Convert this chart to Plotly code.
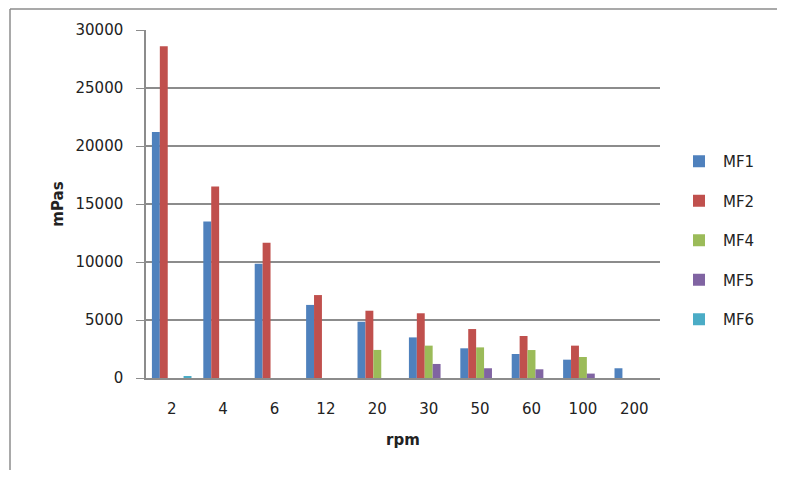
import plotly.graph_objects as go

categories = ["2", "4", "6", "12", "20", "30", "50", "60", "100", "200"]
mf1 = [21200, 13500, 9850, 6300, 4850, 3500, 2560, 2070, 1580, 840]
mf2 = [28600, 16500, 11650, 7150, 5800, 5580, 4220, 3620, 2790, None]
mf4 = [None, None, None, None, 2420, 2790, 2640, 2410, 1810, None]
mf5 = [None, None, None, None, None, 1210, 840, 750, 380, None]
mf6 = [150, None, None, None, None, None, None, None, None, None]

series = [
    ("MF1", mf1, "#4F81BD"),
    ("MF2", mf2, "#C0504D"),
    ("MF4", mf4, "#9BBB59"),
    ("MF5", mf5, "#8064A2"),
    ("MF6", mf6, "#4BACC6"),
]

FONT = "DejaVu Sans"
OFF = 8  # page body margin
fig = go.Figure()
for name, vals, color in series:
    fig.add_trace(go.Bar(
        x=categories, y=vals, name=name, legendgroup=name,
        marker=dict(color=color, line=dict(width=0)),
    ))

W, H = 785 - 2 * OFF, 478 - 2 * OFF
# target screen positions of plot area
SX0, SX1, SY0, SY1 = 146, 660, 30, 378
L = SX0 - OFF
T = SY0 - OFF
R = (OFF + W) - SX1
B = (OFF + H) - SY1
pw, ph = SX1 - SX0, SY1 - SY0

def px_x(p):
    return (p - SX0) / pw

def px_y(p):
    return (SY1 - p) / ph

fig.update_layout(
    width=W, height=H,
    margin=dict(l=L, r=R, t=T, b=B, pad=0, autoexpand=False),
    paper_bgcolor="white", plot_bgcolor="white",
    barmode="group", bargap=0.23, bargroupgap=0,
    font=dict(family=FONT, size=14, color="#222222"),
    showlegend=True,
    legend=dict(
        x=px_x(675), y=px_y(145), xanchor="left", yanchor="top",
        font=dict(family=FONT, size=15, color="#222222"),
        tracegroupgap=17, itemwidth=38, bgcolor="rgba(0,0,0,0)",
    ),
    xaxis=dict(
        type="category", showgrid=False, showline=True, linecolor="#8c8c8c", linewidth=1.5,
        ticks="", ticklabelstandoff=16,
        tickfont=dict(family=FONT, size=15, color="#222222"),
        title=dict(text="<b>rpm</b>", font=dict(family=FONT, size=15, color="#222222"), standoff=18),
        automargin=False,
    ),
    yaxis=dict(
        range=[0, 30000], dtick=5000, tickformat="d",
        showgrid=True, gridcolor="#8c8c8c", gridwidth=1.5,
        showline=True, linecolor="#8c8c8c", linewidth=1.5,
        ticks="outside", ticklen=8, tickcolor="#8c8c8c", tickwidth=1,
        ticklabelstandoff=10,
        tickfont=dict(family=FONT, size=15, color="#222222"),
        title=dict(text="<b>mPas</b>", font=dict(family=FONT, size=15, color="#222222"), standoff=8),
        zeroline=False, automargin=False,
    ),
    shapes=[
        dict(type="line", xref="paper", yref="paper", x0=px_x(10), x1=px_x(10),
             y0=px_y(9), y1=px_y(478), line=dict(color="#8c8c8c", width=1.5)),
        dict(type="line", xref="paper", yref="paper", x0=px_x(10), x1=px_x(785),
             y0=px_y(9), y1=px_y(9), line=dict(color="#8c8c8c", width=1.5)),
    ],
)

fig.write_html("out.html")
